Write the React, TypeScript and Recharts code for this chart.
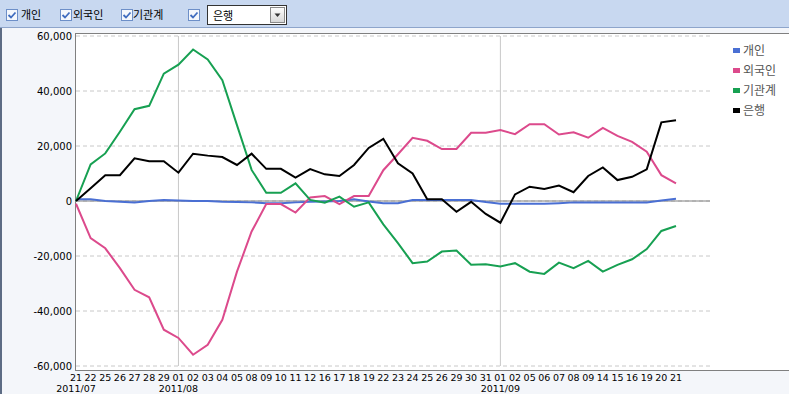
import React from "react";
import { LineChart, Line, XAxis, YAxis, CartesianGrid, ReferenceLine } from "recharts";

const dates = [
  "2011/07/21", "2011/07/22", "2011/07/25", "2011/07/26", "2011/07/27", "2011/07/28", "2011/07/29",
  "2011/08/01", "2011/08/02", "2011/08/03", "2011/08/04", "2011/08/05", "2011/08/08", "2011/08/09",
  "2011/08/10", "2011/08/11", "2011/08/12", "2011/08/16", "2011/08/17", "2011/08/18", "2011/08/19",
  "2011/08/22", "2011/08/23", "2011/08/24", "2011/08/25", "2011/08/26", "2011/08/29", "2011/08/30",
  "2011/08/31", "2011/09/01", "2011/09/02", "2011/09/05", "2011/09/06", "2011/09/07", "2011/09/08",
  "2011/09/09", "2011/09/14", "2011/09/15", "2011/09/16", "2011/09/19", "2011/09/20", "2011/09/21",
];

// 개인
const individual = [
  600, 600, 0, -300, -500, 0, 400, 200, 0, 0, -300, -400, -500, -800, -800, -500, -300, -200, 0, 600,
  -200, -800, -800, 400, 400, 400, 400, 400, -400, -1000, -1000, -1000, -1000, -800, -500, -500, -500,
  -500, -500, -500, 200, 800,
];

// 외국인
const foreign = [
  -1000, -13500, -17200, -24400, -32300, -35000, -46800, -49800, -55900, -52300, -43200, -25700, -11100,
  -1100, -1100, -4200, 1300, 1800, -1100, 1800, 1800, 11200, 17000, 23000, 21900, 18900, 18900, 24800,
  24800, 25800, 24300, 27900, 27900, 24200, 25000, 23000, 26600, 23700, 21500, 17900, 9400, 6400,
];

// 기관계
const institution = [
  0, 13300, 17300, 25200, 33400, 34600, 46300, 49600, 55100, 51500, 43900, 27600, 11300, 3000, 3000,
  6400, 400, -600, 1600, -2100, -500, -8500, -15300, -22600, -22000, -18400, -18000, -23200, -23000,
  -23800, -22600, -25700, -26500, -22400, -24400, -21800, -25700, -23200, -21200, -17500, -10900, -9100,
];

// 은행
const bank = [
  0, 4600, 9400, 9400, 15500, 14500, 14500, 10300, 17200, 16500, 16000, 13100, 17200, 11700, 11700, 8500,
  11600, 9700, 9100, 13100, 19300, 22600, 13700, 10000, 600, 600, -3900, -300, -4700, -7900, 2400, 5200,
  4400, 5600, 3200, 9100, 12200, 7600, 8800, 11500, 28600, 29400,
];

const yTicks = [60000, 40000, 20000, 0, -20000, -40000, -60000];

const series = [
  { key: "individual", name: "개인", color: "#4a6fd3" },
  { key: "foreign", name: "외국인", color: "#dc4a8c" },
  { key: "institution", name: "기관계", color: "#17a052" },
  { key: "bank", name: "은행", color: "#000000" },
];

const chartData = dates.map((date, i) => ({
  date,
  individual: individual[i],
  foreign: foreign[i],
  institution: institution[i],
  bank: bank[i],
}));

const monthOf = (d: string) => d.split("/")[1];
const monthStarts = dates.filter((d, i) => i > 0 && monthOf(d) !== monthOf(dates[i - 1]));

const axisFont = "'DejaVu Sans', sans-serif";
const koFont = "'Noto Sans CJK KR', sans-serif";

const DateTick = (props: any) => {
  const { x, y, payload } = props;
  const value: string = payload.value;
  const i = dates.indexOf(value);
  const [yr, mo, day] = value.split("/");
  const showMonth = i === 0 || monthOf(dates[i - 1]) !== mo;
  return (
    <g>
      <text x={x} y={y + 15} textAnchor="middle" fontSize={9.5} fontFamily={axisFont} fill="#000">
        {day}
      </text>
      {showMonth && (
        <text x={x} y={y + 26} textAnchor="middle" fontSize={9.5} fontFamily={axisFont} fill="#000">
          {yr}/{mo}
        </text>
      )}
    </g>
  );
};

const CheckBox = ({ left }: { left: number }) => (
  <svg
    width={12}
    height={12}
    style={{ position: "absolute", left, top: 9 }}
  >
    <rect x={0.5} y={0.5} width={11} height={11} fill="#f4f7fc" stroke="#6d8fc8" />
    <path d="M2.5 6 L5 8.5 L9.5 3.5" fill="none" stroke="#3f6cbf" strokeWidth={1.8} />
  </svg>
);

const toolLabel = (left: number, text: string) => (
  <span
    style={{
      position: "absolute",
      left,
      top: 6,
      fontSize: 11,
      lineHeight: "16px",
      fontFamily: koFont,
      color: "#000",
    }}
  >
    {text}
  </span>
);

export default function App() {
  return (
    <div
      style={{
        position: "absolute",
        left: 0,
        top: 0,
        width: 789,
        height: 394,
        background: "#f4f6fa",
        overflow: "hidden",
      }}
    >
      {/* toolbar */}
      <div
        style={{
          position: "absolute",
          left: 0,
          top: 0,
          width: 789,
          height: 27,
          background: "#c8d8f0",
          borderBottom: "1px solid #8ea5cb",
        }}
      >
        <CheckBox left={6} />
        {toolLabel(21, "개인")}
        <CheckBox left={60} />
        {toolLabel(73, "외국인")}
        <CheckBox left={121} />
        {toolLabel(133, "기관계")}
        <CheckBox left={188} />
        <div
          style={{
            position: "absolute",
            left: 207,
            top: 5,
            width: 78,
            height: 18,
            background: "#fff",
            border: "1px solid #333",
          }}
        >
          <span
            style={{
              position: "absolute",
              left: 5,
              top: 0,
              fontSize: 11,
              lineHeight: "18px",
              fontFamily: koFont,
              color: "#000",
            }}
          >
            은행
          </span>
          <div
            style={{
              position: "absolute",
              right: 1,
              top: 1,
              width: 13,
              height: 14,
              background: "linear-gradient(#fdfdfd, #d8d8d8)",
              border: "1px solid #8a8a8a",
            }}
          >
            <svg width={13} height={14} style={{ position: "absolute", left: 0, top: 0 }}>
              <path d="M3.5 5.5 L9.5 5.5 L6.5 9 Z" fill="#333" />
            </svg>
          </div>
        </div>
      </div>

      {/* left dark strip */}
      <div style={{ position: "absolute", left: 0, top: 28, width: 2, height: 366, background: "#5d6c84" }} />

      {/* plot frame */}
      <div
        style={{
          position: "absolute",
          left: 75,
          top: 33,
          width: 720,
          height: 336,
          background: "#fff",
          borderTop: "1px solid #808080",
          borderLeft: "1px solid #808080",
          borderBottom: "1px solid #808080",
        }}
      />

      <div style={{ position: "absolute", left: 0, top: 0 }}>
        <LineChart
          width={789}
          height={394}
          data={chartData}
          margin={{ top: 36, right: 79, bottom: 0, left: 0 }}
        >
          <CartesianGrid vertical={false} stroke="#c8c8c8" strokeDasharray="4 3" />
          <XAxis
            dataKey="date"
            interval={0}
            height={28}
            axisLine={false}
            tickLine={false}
            tickSize={0}
            tickMargin={0}
            padding={{ left: 0, right: 34 }}
            tick={<DateTick />}
          />
          <YAxis
            domain={[-60000, 60000]}
            ticks={yTicks}
            width={76}
            axisLine={false}
            tickLine={false}
            tickSize={0}
            tickMargin={4}
            tickFormatter={(v: number) => v.toLocaleString("en-US")}
            tick={{ fontSize: 10, fontFamily: axisFont, fill: "#000" }}
          />
          {monthStarts.map((d) => (
            <ReferenceLine key={d} x={d} stroke="#c8c8c8" strokeWidth={1} />
          ))}
          <ReferenceLine y={0} stroke="#808080" strokeWidth={1} />
          {series.map((s) => (
            <Line
              key={s.key}
              type="linear"
              dataKey={s.key}
              name={s.name}
              stroke={s.color}
              strokeWidth={2}
              dot={false}
              activeDot={false}
              isAnimationActive={false}
            />
          ))}
        </LineChart>
      </div>

      {/* legend */}
      {series.map((s, i) => (
        <div
          key={s.key}
          style={{
            position: "absolute",
            left: 733,
            top: 42 + i * 20,
            height: 16,
            display: "flex",
            alignItems: "center",
          }}
        >
          <span style={{ display: "inline-block", width: 7, height: 5, background: s.color, marginRight: 3 }} />
          <span style={{ fontSize: 12, lineHeight: "16px", fontFamily: koFont, color: "#555" }}>{s.name}</span>
        </div>
      ))}
    </div>
  );
}
